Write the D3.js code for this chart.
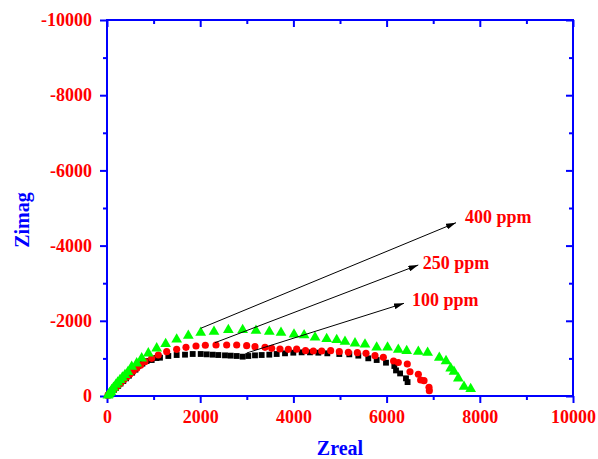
<!DOCTYPE html>
<html>
<head>
<meta charset="utf-8">
<script src="https://cdn.jsdelivr.net/npm/d3@7"></script>
<style>
  body { margin: 0; background: #fff; }
  svg { display: block; }
  text { font-family: 'Liberation Serif', 'Times New Roman', serif; font-weight: bold; }
</style>
</head>
<body>
<svg id="chart" width="598" height="459"></svg>
<script>
// Nyquist data: [Zreal, Zimag] (Zimag is negative)
var ppm100 = [
  [20,-15],[50,-40],[80,-75],[110,-110],[150,-160],[190,-210],[240,-270],[290,-330],[350,-400],
  [410,-470],[470,-540],[540,-620],[610,-700],[672,-798],[760,-860],[850,-930],[959,-957],
  [1060,-1010],[1137,-1019],[1316,-1064],[1495,-1090],[1674,-1099],[1839,-1117],[2011,-1117],
  [2139,-1108],[2268,-1099],[2389,-1090],[2532,-1081],[2654,-1073],[2783,-1064],[2911,-1046],
  [3032,-1064],[3176,-1081],[3319,-1090],[3483,-1099],[3641,-1117],[3820,-1135],[3998,-1152],
  [4177,-1161],[4356,-1161],[4535,-1152],[4728,-1135],[4985,-1117],[5200,-1108],[5393,-1073],
  [5607,-1002],[5787,-957],[5987,-886],[6166,-798],[6202,-680],[6290,-600],[6416,-470],[6450,-370]
]
var ppm250 = [
  [20,-20],[50,-55],[85,-95],[120,-140],[160,-190],[200,-240],[250,-300],[300,-360],[360,-430],
  [420,-500],[490,-580],[560,-660],[640,-740],[720,-820],[815,-913],[959,-1002],[1101,-1090],
  [1281,-1179],[1495,-1241],[1695,-1294],[1910,-1330],[2110,-1350],[2339,-1356],[2568,-1356],
  [2783,-1356],[2997,-1339],[3176,-1312],[3391,-1294],[3534,-1268],[3712,-1250],[3891,-1241],
  [4070,-1245],[4260,-1205],[4428,-1197],[4607,-1197],[4800,-1205],[4985,-1179],[5179,-1161],
  [5372,-1152],[5558,-1135],[5751,-1073],[5930,-1028],[6150,-930],[6251,-890],[6444,-851],
  [6502,-646],[6681,-577],[6730,-426],[6803,-408],[6910,-230],[6917,-142]
]
var ppm400 = [
  [20,-15],[40,-45],[60,-80],[80,-110],[100,-160],[140,-220],[190,-300],[230,-360],[279,-426],
  [330,-490],[386,-559],[450,-640],[530,-780],[637,-869],[744,-1002],[887,-1135],[1066,-1268],
  [1259,-1383],[1495,-1507],[1745,-1604],[2011,-1683],[2296,-1711],[2604,-1755],[2911,-1755],
  [3197,-1738],[3483,-1711],[3734,-1684],[4013,-1640],[4230,-1620],[4464,-1560],[4714,-1516],
  [4929,-1489],[5107,-1444],[5322,-1401],[5536,-1374],[5787,-1294],[6020,-1290],[6251,-1230],
  [6431,-1197],[6681,-1179],[6880,-1152],[7131,-1019],[7275,-930],[7375,-737],[7446,-646],
  [7539,-470],[7661,-248],[7804,-186]
]

var xTicks = [0, 2000, 4000, 6000, 8000, 10000]
var yTicks = [0, -2000, -4000, -6000, -8000, -10000]
var xMinor = [1000, 3000, 5000, 7000, 9000]
var yMinor = [-1000, -3000, -5000, -7000, -9000]

// annotation arrows: start point, end point, label in data units
var labels = ['400 ppm', '250 ppm', '100 ppm']
var arrowFrom = [[2011,-1800],[2318,-1418],[2998,-1144]]
var arrowTo = [[7489,-4609],[6680,-3484],[6373,-2465]]
var labelAt = [[7682,-4590],[6775,-3370],[6545,-2385]]

var margin = {top: 20, left: 107, right: 25, bottom: 63}
var width = 598 - margin.left - margin.right
var height = 459 - margin.top - margin.bottom
var blue = '#0000ff', red = '#ff0000'

var svg = d3.select('#chart')
var g = svg.append('g').attr('transform', `translate(${margin.left},${margin.top})`)

var x = d3.scaleLinear().domain([0, 10000]).range([0, width])
var y = d3.scaleLinear().domain([0, -10000]).range([height, 0])

// plain hyphen minus like the original, not the unicode one
var fmt = d => String(d)

function styleAxis(sel, showText) {
  sel.select('.domain').remove()
  sel.selectAll('line').attr('stroke', blue).attr('stroke-width', 2)
  if (showText) {
    sel.selectAll('text')
      .attr('fill', red)
      .attr('font-size', 18)
      .style('font-family', "'Liberation Serif', serif")
      .style('font-weight', 'bold')
  } else {
    sel.selectAll('text').remove()
  }
}

// bottom + left, ticks outward
g.append('g').attr('transform', `translate(0,${height})`)
  .call(d3.axisBottom(x).tickValues(xTicks).tickSize(7).tickPadding(7).tickFormat(fmt))
  .call(s => styleAxis(s, true))
g.append('g').attr('transform', `translate(0,${height})`)
  .call(d3.axisBottom(x).tickValues(xMinor).tickSize(4))
  .call(s => styleAxis(s, false))
g.append('g')
  .call(d3.axisLeft(y).tickValues(yTicks).tickSize(7).tickPadding(8).tickFormat(fmt))
  .call(s => styleAxis(s, true))
g.append('g')
  .call(d3.axisLeft(y).tickValues(yMinor).tickSize(4))
  .call(s => styleAxis(s, false))

// top + right, ticks inward
g.append('g')
  .call(d3.axisTop(x).tickValues(xTicks).tickSize(-7))
  .call(s => styleAxis(s, false))
g.append('g')
  .call(d3.axisTop(x).tickValues(xMinor).tickSize(-4))
  .call(s => styleAxis(s, false))
g.append('g').attr('transform', `translate(${width},0)`)
  .call(d3.axisRight(y).tickValues(yTicks).tickSize(-7))
  .call(s => styleAxis(s, false))
g.append('g').attr('transform', `translate(${width},0)`)
  .call(d3.axisRight(y).tickValues(yMinor).tickSize(-4))
  .call(s => styleAxis(s, false))

g.append('rect')
  .attr('width', width)
  .attr('height', height)
  .attr('fill', 'none')
  .attr('stroke', blue)
  .attr('stroke-width', 2)

// series, black under red under green
var series = [
  {data: ppm100, type: d3.symbolSquare, size: 34, color: '#000000'},
  {data: ppm250, type: d3.symbolCircle, size: 40, color: '#ff0000'},
  {data: ppm400, type: d3.symbolTriangle, size: 50, color: '#00ff00'}
]
series.forEach(s => {
  var sym = d3.symbol().type(s.type).size(s.size)
  g.append('g').selectAll('path').data(s.data)
    .enter().append('path')
      .attr('transform', d => `translate(${x(d[0])},${y(d[1])})`)
      .attr('d', sym)
      .attr('fill', s.color)
})

// arrows
svg.append('defs').append('marker')
    .attr('id', 'head')
    .attr('markerUnits', 'userSpaceOnUse')
    .attr('viewBox', '0 0 10 6')
    .attr('refX', 10)
    .attr('refY', 3)
    .attr('markerWidth', 10)
    .attr('markerHeight', 6)
    .attr('orient', 'auto')
  .append('path')
    .attr('d', 'M0,0L10,3L0,6Z')
    .attr('fill', '#000')

labels.forEach((lab, i) => {
  g.append('line')
    .attr('x1', x(arrowFrom[i][0]))
    .attr('y1', y(arrowFrom[i][1]))
    .attr('x2', x(arrowTo[i][0]))
    .attr('y2', y(arrowTo[i][1]))
    .attr('stroke', '#000')
    .attr('stroke-width', 1)
    .attr('marker-end', 'url(#head)')
  g.append('text')
    .attr('x', x(labelAt[i][0]))
    .attr('y', y(labelAt[i][1]))
    .attr('fill', red)
    .attr('font-size', 18)
    .text(lab)
})

// axis titles
svg.append('text')
  .attr('x', margin.left + width / 2)
  .attr('y', 455)
  .attr('text-anchor', 'middle')
  .attr('fill', blue)
  .attr('font-size', 20)
  .text('Zreal')
svg.append('text')
  .attr('transform', 'translate(29,220) rotate(-90)')
  .attr('text-anchor', 'middle')
  .attr('fill', blue)
  .attr('font-size', 20)
  .text('Zimag')
</script>
</body>
</html>
